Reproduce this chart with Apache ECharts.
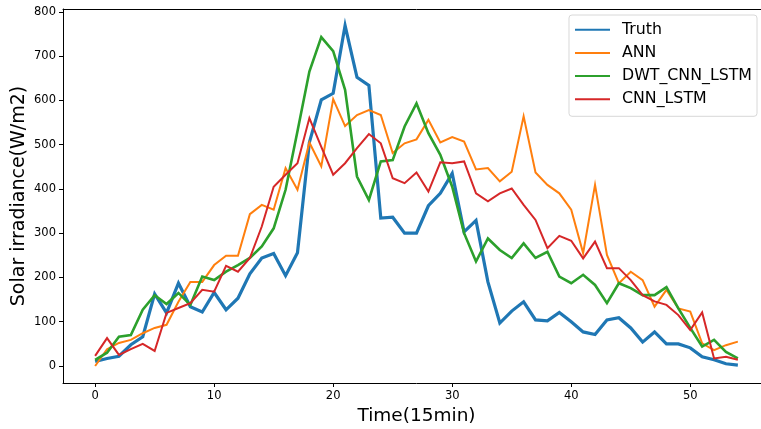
<!DOCTYPE html>
<html>
<head>
<meta charset="utf-8">
<script src="https://cdn.jsdelivr.net/npm/echarts@6/dist/echarts.min.js"></script>
<style>
  html, body { margin: 0; padding: 0; background: #fff; overflow: hidden; }
  #chart { width: 780px; height: 429px; }
</style>
</head>
<body>
<div id="chart"></div>
<script>
// Solar irradiance over 55 steps of 15 minutes: measured vs. three forecast models
const steps = Array.from({ length: 55 }, (_, i) => i);

const truth = [10, 17, 22, 48, 66, 163, 120, 187, 134, 122, 166, 127, 153, 208, 244, 254, 204, 256, 505, 601,
  616, 769, 652, 634, 334, 336, 300, 300, 362, 390, 435, 303, 329, 190, 97, 124, 145, 104, 102, 121,
  100, 77, 71, 104, 109, 86, 54, 77, 50, 50, 41, 21, 14, 5, 2];

const ann = [0, 38, 52, 59, 74, 86, 93, 145, 190, 190, 228, 249, 249, 343, 364, 353, 447, 398, 505, 451,
  603, 542, 567, 578, 567, 481, 503, 512, 556, 505, 517, 507, 444, 447, 417, 439, 564, 437, 409, 390,
  353, 255, 409, 251, 187, 213, 194, 134, 172, 130, 123, 51, 36, 47, 55];

const dwtCnnLstm = [14, 30, 66, 70, 127, 160, 140, 165, 138, 202, 194, 213, 228, 244, 270, 311, 398, 530, 665, 743,
  711, 624, 428, 375, 462, 465, 541, 593, 526, 477, 405, 300, 236, 288, 262, 244, 277, 244, 258, 202,
  187, 206, 183, 142, 187, 176, 160, 160, 178, 130, 86, 44, 59, 32, 17];

const cnnLstm = [23, 63, 25, 38, 50, 34, 120, 131, 142, 172, 168, 226, 213, 244, 315, 405, 432, 458, 560, 495,
  432, 458, 492, 524, 503, 424, 413, 437, 394, 460, 458, 462, 390, 372, 390, 401, 364, 330, 266, 294,
  283, 243, 281, 221, 221, 194, 160, 146, 138, 115, 81, 121, 17, 21, 14];

const xTicks = [0, 10, 20, 30, 40, 50];
const yTicks = [0, 100, 200, 300, 400, 500, 600, 700, 800];

const pair = arr => arr.map((v, i) => [steps[i], v]);

const font = 'DejaVu Sans';
const xRange = { min: -2.7, max: 56.7 };

const lineSeries = (name, values, color, width) => ({
  name,
  type: 'line',
  data: pair(values),
  symbol: 'none',
  showSymbol: false,
  animation: false,
  lineStyle: { color, width, join: 'miter' },
  itemStyle: { color }
});

const chart = echarts.init(document.getElementById('chart'), null, { renderer: 'canvas' });

chart.setOption({
  animation: false,
  backgroundColor: '#ffffff',
  grid: {
    left: 63, right: 10, top: 9, bottom: 46,
    outerBoundsMode: 'none',
    containLabel: false,
    show: false
  },
  legend: {
    orient: 'vertical',
    right: 23, top: 15,
    itemWidth: 35, itemHeight: 14, itemGap: 7.2,
    padding: [6.7, 5, 9, 5],
    backgroundColor: 'rgba(255,255,255,0.85)',
    borderColor: '#d8d8d8', borderWidth: 1, borderRadius: 3,
    itemStyle: { opacity: 0 },
    textStyle: { fontFamily: font, fontSize: 15.8, color: '#000', padding: [0, 0, 0, 7] },
    data: ['Truth', 'ANN', 'DWT_CNN_LSTM', 'CNN_LSTM']
  },
  xAxis: [
    {
      type: 'value',
      ...xRange,
      position: 'bottom',
      name: 'Time(15min)',
      nameLocation: 'middle', nameGap: 23,
      nameTextStyle: { fontFamily: font, fontSize: 18.5, color: '#000' },
      axisLine: { show: true, onZero: false, lineStyle: { color: '#000', width: 1 } },
      axisTick: { show: true, length: 4, inside: false, customValues: xTicks, lineStyle: { color: '#000' } },
      axisLabel: { customValues: xTicks, fontFamily: font, fontSize: 11.5, color: '#000', margin: 7 },
      splitLine: { show: false }
    },
    {
      // top frame edge
      type: 'value',
      ...xRange,
      position: 'top',
      axisLine: { show: true, onZero: false, lineStyle: { color: '#000', width: 1 } },
      axisTick: { show: false },
      axisLabel: { show: false },
      splitLine: { show: false }
    }
  ],
  yAxis: {
    type: 'value',
    min: -38.4, max: 806.4,
    name: 'Solar irradiance(W/m2)',
    nameLocation: 'middle', nameGap: 34, nameRotate: 90,
    nameMoveOverlap: false,
    nameTextStyle: { fontFamily: font, fontSize: 19, color: '#000' },
    axisLine: { show: true, onZero: false, lineStyle: { color: '#000', width: 1 } },
    axisTick: { show: true, length: 4, inside: false, customValues: yTicks, lineStyle: { color: '#000' } },
    axisLabel: { customValues: yTicks, fontFamily: font, fontSize: 11.5, color: '#000', margin: 7 },
    splitLine: { show: false }
  },
  series: [
    lineSeries('Truth', truth, '#1f77b4', 3.2),
    lineSeries('ANN', ann, '#ff7f0e', 2),
    lineSeries('DWT_CNN_LSTM', dwtCnnLstm, '#2ca02c', 2.6),
    lineSeries('CNN_LSTM', cnnLstm, '#d62728', 2)
  ]
});
</script>
</body>
</html>
